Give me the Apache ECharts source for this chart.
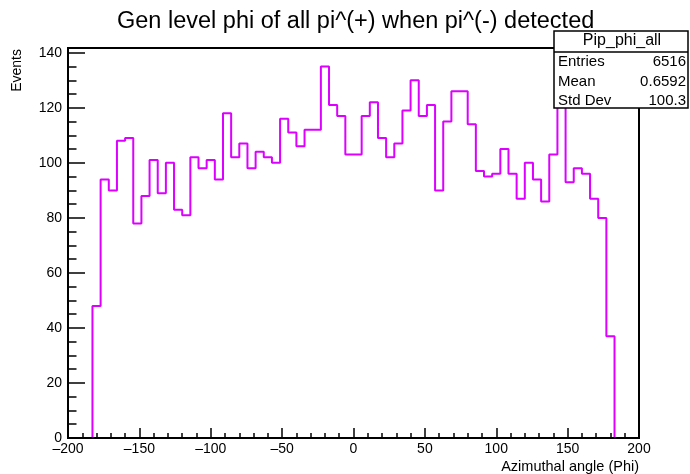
<!DOCTYPE html>
<html>
<head>
<meta charset="utf-8">
<script src="https://cdn.jsdelivr.net/npm/echarts@6/dist/echarts.min.js"></script>
<style>
html,body{margin:0;padding:0;background:#fff;}
#chart{width:690px;height:474px;}
</style>
</head>
<body>
<div id="chart"></div>
<script>
// Histogram definition
const xMin = -200;
const xMax = 200;
const nBins = 70;
// Bin contents (Events)
const counts = [0,0,0,
  48,94,90,108,109,78,88,101,89,100,
  83,81,102,98,101,94,118,102,107,98,
  104,102,100,116,111,106,112,112,135,121,
  117,103,103,117,122,109,102,107,119,130,
  117,121,90,115,126,126,114,97,95,96,
  105,96,87,100,94,86,103,121,93,98,
  96,87,80,37,
  0,0,0];
const xTicks = [-200,-150,-100,-50,0,50,100,150,200];
const yTicks = [0,20,40,60,80,100,120,140];
const yMax = 141.75;

const titleText = 'Gen level phi of all pi^(+) when pi^(-) detected';
const xTitle = 'Azimuthal angle (Phi)';
const yTitle = 'Events';
const statsName = 'Pip_phi_all';
const statsLabels = ['Entries','Mean','Std Dev'];
const statsValues = ['6516','0.6592','100.3'];

const binW = (xMax - xMin) / nBins;
const histData = [];
for (let i = 0; i < nBins; i++) histData.push([xMin + i * binW, counts[i]]);
histData.push([xMax, counts[nBins - 1]]);

const FONT = '"Liberation Sans", Arial, Helvetica, sans-serif';
const chart = echarts.init(document.getElementById('chart'), null, {renderer:'canvas'});

const statsGraphics = [
  {type:'rect', shape:{x:554, y:31, width:134, height:77}, style:{fill:'#fff', stroke:'#000', lineWidth:1.5}, z:100},
  {type:'line', shape:{x1:554, y1:52, x2:688, y2:52}, style:{stroke:'#000', lineWidth:1.5}, z:101},
  {type:'text', x:622, y:41, style:{text:statsName, font:'16px ' + FONT, fill:'#000', textAlign:'center', textVerticalAlign:'middle'}, z:102}
];
statsLabels.forEach((l, i) => {
  const y = 62 + i * 19.5;
  statsGraphics.push({type:'text', x:558, y:y, style:{text:l, font:'15px ' + FONT, fill:'#000', textAlign:'left', textVerticalAlign:'middle'}, z:102});
  statsGraphics.push({type:'text', x:686, y:y, style:{text:statsValues[i], font:'15px ' + FONT, fill:'#000', textAlign:'right', textVerticalAlign:'middle'}, z:102});
});
statsGraphics.push({type:'text', x:17, y:49, rotation:Math.PI/2, style:{text:yTitle, font:'14px ' + FONT, fill:'#000', textAlign:'right', textVerticalAlign:'middle'}, z:102});

chart.setOption({
  animation:false,
  backgroundColor:'#fff',
  title:{text:titleText, left:112, top:5, textStyle:{fontFamily:FONT, fontSize:23.5, fontWeight:'normal', color:'#000'}},
  grid:{left:68, right:51, top:48, bottom:36, show:true, borderColor:'#000', borderWidth:2, backgroundColor:'transparent', outerBoundsMode:'none'},
  xAxis:{
    type:'value', min:xMin, max:xMax, interval:50, z:5,
    axisLine:{show:true, onZero:false, lineStyle:{color:'#000', width:2}},
    axisTick:{show:true, inside:true, length:10, lineStyle:{color:'#000', width:1.5}},
    minorTick:{show:true, splitNumber:5, length:5, lineStyle:{color:'#000', width:1.5}},
    splitLine:{show:false},
    axisLabel:{margin:4, fontFamily:FONT, fontSize:14, color:'#000',
      formatter:v => xTicks.indexOf(v) >= 0 ? String(v).replace('-', '\u2013') : ''},
    name:xTitle, nameLocation:'end', nameGap:0,
    nameTextStyle:{fontFamily:FONT, fontSize:14.5, color:'#000', align:'right', verticalAlign:'top', padding:[21,0,0,0]}
  },
  yAxis:[{
    type:'value', min:0, max:yMax, interval:20, z:5, position:'left',
    axisLine:{show:true, onZero:false, lineStyle:{color:'#000', width:2}},
    axisTick:{show:true, inside:true, length:17, lineStyle:{color:'#000', width:1.5}},
    splitLine:{show:false},
    axisLabel:{margin:6, fontFamily:FONT, fontSize:14, color:'#000',
      formatter:v => yTicks.indexOf(v) >= 0 ? String(v) : ''}
  },{
    type:'value', min:0, max:yMax, interval:5, position:'left', offset:0, z:5,
    axisLine:{show:false, onZero:false},
    axisTick:{show:true, inside:true, length:8.5, lineStyle:{color:'#000', width:1.5}},
    splitLine:{show:false},
    axisLabel:{show:false}
  }],
  series:[{
    type:'line', step:'end', data:histData, yAxisIndex:0,
    symbol:'none', clip:false, z:2,
    lineStyle:{color:'#db00ff', width:2}
  }],
  graphic:statsGraphics
});
</script>
</body>
</html>
